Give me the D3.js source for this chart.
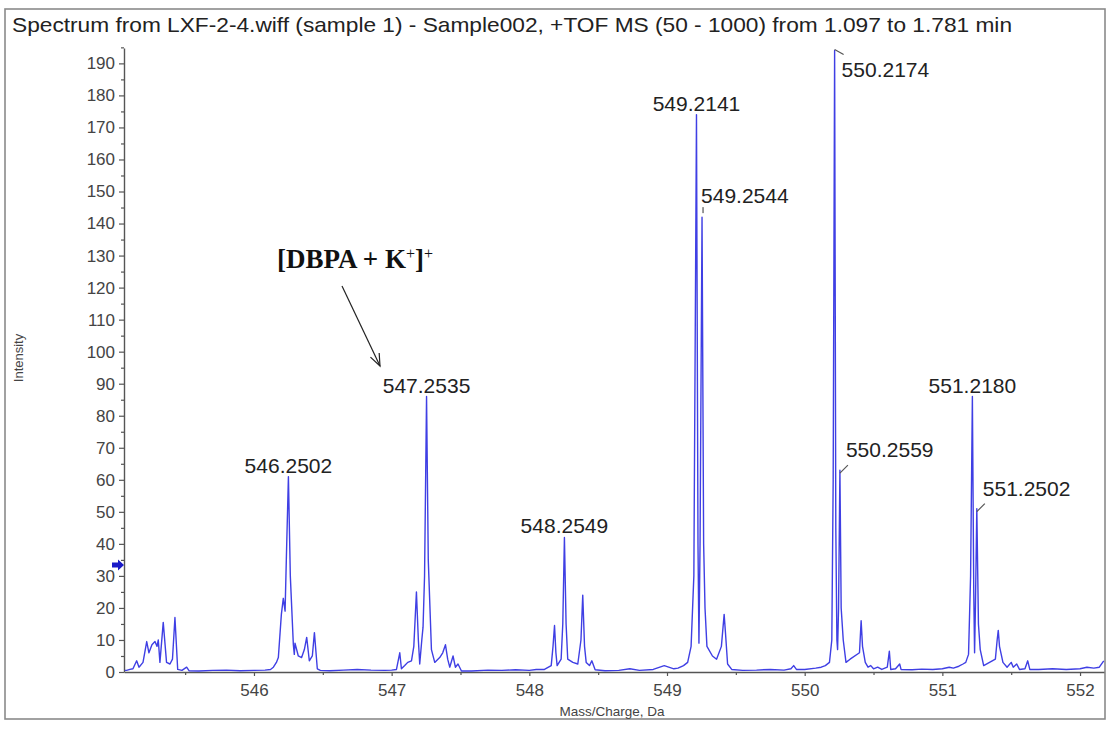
<!DOCTYPE html>
<html>
<head>
<meta charset="utf-8">
<script src="https://cdn.jsdelivr.net/npm/d3@7"></script>
<style>
  body { margin: 0; background: #fff; }
  svg { display: block; font-family: "Liberation Sans", Arial, sans-serif; }
</style>
</head>
<body>
<svg id="chart" width="1108" height="731"></svg>
<script>
// ---- Data ---------------------------------------------------------------
const titleText = "Spectrum from LXF-2-4.wiff (sample 1) - Sample002, +TOF MS (50 - 1000) from 1.097 to 1.781 min";

const mzTicks = [546, 547, 548, 549, 550, 551, 552];
const intensityTicks = [0, 10, 20, 30, 40, 50, 60, 70, 80, 90, 100, 110, 120, 130, 140, 150, 160, 170, 180, 190];

// profile spectrum (m/z, intensity)
const profileMz = [
  545.062, 545.075, 545.099, 545.121, 545.148, 545.165, 545.194, 545.221, 545.237, 545.259,
  545.281, 545.296, 545.305, 545.317, 545.341, 545.365, 545.390, 545.408, 545.426, 545.446,
  545.477, 545.511, 545.528, 545.600, 545.700, 545.800, 545.900, 546.000, 546.080, 546.120,
  546.141, 546.163, 546.177, 546.199, 546.213, 546.226, 546.235, 546.2502, 546.264, 546.286,
  546.293, 546.298, 546.322, 546.346, 546.366, 546.383, 546.402, 546.424, 546.439, 546.460,
  546.482, 546.550, 546.650, 546.750, 546.850, 546.950, 547.000, 547.035, 547.059, 547.071,
  547.095, 547.117, 547.144, 547.161, 547.180, 547.194, 547.204, 547.219, 547.228, 547.239,
  547.2535, 547.266, 547.289, 547.313, 547.349, 547.371, 547.391, 547.407, 547.422, 547.446,
  547.463, 547.482, 547.507, 547.580, 547.700, 547.800, 547.900, 548.000, 548.050, 548.110,
  548.139, 548.159, 548.172, 548.183, 548.193, 548.202, 548.231, 548.243, 548.2549, 548.267,
  548.279, 548.316, 548.352, 548.375, 548.388, 548.401, 548.413, 548.437, 548.454, 548.478,
  548.550, 548.650, 548.730, 548.800, 548.900, 548.980, 549.050, 549.080, 549.120, 549.150,
  549.175, 549.195, 549.2141, 549.225, 549.232, 549.240, 549.2544, 549.266, 549.276, 549.290,
  549.330, 549.360, 549.395, 549.415, 549.425, 549.440, 549.470, 549.550, 549.650, 549.750,
  549.850, 549.900, 549.920, 549.940, 550.000, 550.080, 550.120, 550.150, 550.180, 550.197,
  550.207, 550.2174, 550.226, 550.234, 550.239, 550.246, 550.2559, 550.265, 550.280, 550.300,
  550.330, 550.398, 550.410, 550.420, 550.440, 550.460, 550.480, 550.500, 550.530, 550.560,
  550.600, 550.615, 550.625, 550.660, 550.690, 550.700, 550.780, 550.850, 550.930, 551.000,
  551.050, 551.080, 551.120, 551.150, 551.170, 551.190, 551.205, 551.2180, 551.228, 551.234,
  551.240, 551.2502, 551.262, 551.275, 551.300, 551.385, 551.398, 551.406, 551.415, 551.440,
  551.470, 551.500, 551.515, 551.540, 551.560, 551.600, 551.620, 551.635, 551.700, 551.800,
  551.900, 552.000, 552.050, 552.100, 552.140, 552.172
];
const profileIntensity = [
  0.5, 0.5, 0.8, 1.0, 3.5, 1.5, 3.0, 9.5, 6.0, 8.5,
  9.5, 8.0, 10.0, 3.0, 15.5, 3.0, 2.5, 4.0, 17.0, 0.8,
  0.5, 1.5, 0.4, 0.3, 0.5, 0.6, 0.4, 0.5, 0.6, 0.8,
  1.5, 3.0, 4.5, 18.0, 23.0, 19.0, 35.0, 61.0, 30.0, 8.5,
  5.5, 9.0, 5.0, 4.5, 7.0, 10.8, 3.5, 5.0, 12.3, 1.0,
  0.5, 0.4, 0.6, 0.8, 0.6, 0.5, 0.6, 0.8, 6.0, 1.0,
  2.0, 3.0, 3.5, 8.0, 25.0, 10.0, 2.5, 10.0, 14.0, 30.0,
  86.0, 35.0, 7.0, 3.0, 4.5, 6.0, 8.5, 4.0, 1.5, 5.0,
  1.5, 2.5, 0.3, 0.3, 0.6, 0.5, 0.7, 0.5, 0.8, 0.8,
  1.5, 2.0, 8.0, 14.5, 6.0, 2.0, 4.0, 15.0, 42.0, 15.0,
  4.0, 3.0, 2.5, 10.0, 24.0, 8.0, 3.0, 2.0, 3.5, 0.7,
  0.4, 0.5, 1.0, 0.5, 0.8, 2.0, 1.0, 1.2, 2.0, 3.0,
  8.0, 30.0, 174.0, 40.0, 9.0, 40.0, 142.0, 40.0, 20.0, 8.0,
  5.0, 4.0, 8.0, 18.0, 12.0, 2.5, 0.8, 0.5, 0.6, 0.8,
  0.6, 1.0, 2.0, 0.8, 0.8, 1.2, 1.5, 2.0, 3.0, 10.0,
  60.0, 194.0, 45.0, 10.0, 7.0, 20.0, 63.0, 20.0, 10.0, 3.0,
  4.0, 6.0, 16.0, 8.0, 3.0, 1.5, 2.0, 1.0, 1.5, 0.8,
  1.5, 6.5, 0.8, 1.0, 2.5, 0.8, 0.7, 0.9, 0.8, 1.0,
  1.5, 1.2, 1.8, 2.5, 3.0, 5.5, 30.0, 86.0, 25.0, 6.0,
  20.0, 51.0, 15.0, 7.0, 2.0, 4.0, 10.0, 13.0, 8.0, 3.0,
  1.5, 3.0, 1.5, 2.5, 0.8, 1.0, 3.5, 0.8, 0.8, 1.0,
  0.8, 1.0, 1.5, 1.2, 1.5, 3.5
];

// labelled centroid peaks
const peakMz = [546.2502, 547.2535, 548.2549, 549.2141, 549.2544, 550.2174, 550.2559, 551.2180, 551.2502];
const peakIntensity = [61, 86, 42, 174, 142, 194, 63, 86, 51];

// where each peak label sits relative to its apex
const labelStyle = ["above", "above", "above", "above", "tick", "down", "up", "above", "up"];

// detection threshold marker
const thresholdLevel = 33.4;

// ---- Layout -------------------------------------------------------------
const svg = d3.select("#chart");
const plot = { left: 124, right: 1104, top: 48, bottom: 672 };

const x = d3.scaleLinear().domain([545.056, 552.174]).range([plot.left, plot.right]);
const y = d3.scaleLinear().domain([0, 194.8]).range([plot.bottom, plot.top]);

const axisColor = "#555";
const tickTextColor = "#444";
const traceColor = "#3f3fe4";

// outer frame
svg.append("rect")
  .attr("x", 5).attr("y", 9).attr("width", 1100).attr("height", 710)
  .attr("fill", "none").attr("stroke", "#8a8a8a").attr("stroke-width", 1.6);

// title
svg.append("text")
  .attr("x", 12).attr("y", 32)
  .attr("font-size", 21).attr("fill", "#222")
  .attr("textLength", 1000).attr("lengthAdjust", "spacingAndGlyphs")
  .text(titleText);

// y axis (major + minor ticks)
svg.append("g").attr("transform", `translate(${plot.left},0)`)
  .call(d3.axisLeft(y).tickValues(intensityTicks).tickSize(5).tickSizeOuter(0).tickPadding(4));
svg.append("g").attr("transform", `translate(${plot.left},0)`)
  .call(d3.axisLeft(y).tickValues(intensityTicks.map(v => v + 5)).tickSize(3).tickSizeOuter(0).tickFormat(""))
  .select(".domain").remove();

// x axis (major + minor ticks)
svg.append("g").attr("transform", `translate(0,${plot.bottom})`)
  .call(d3.axisBottom(x).tickValues(mzTicks).tickSize(4).tickSizeOuter(0).tickPadding(8).tickFormat(d3.format("d")));
svg.append("g").attr("transform", `translate(0,${plot.bottom})`)
  .call(d3.axisBottom(x).tickValues(mzTicks.map(v => v - 0.5)).tickSize(3).tickSizeOuter(0).tickFormat(""))
  .select(".domain").remove();

svg.selectAll(".domain").attr("stroke", axisColor).attr("stroke-width", 1.4);
svg.selectAll(".tick line").attr("stroke", axisColor).attr("stroke-width", 1.2);
svg.selectAll(".tick text")
  .attr("font-family", "Liberation Sans, Arial, sans-serif")
  .attr("font-size", 17).attr("fill", tickTextColor);

// axis titles
svg.append("text")
  .attr("transform", `translate(23,${(plot.top + plot.bottom) / 2 - 2}) rotate(-90)`)
  .attr("text-anchor", "middle").attr("font-size", 13).attr("fill", tickTextColor)
  .text("Intensity");
svg.append("text")
  .attr("x", 612).attr("y", 716)
  .attr("text-anchor", "middle").attr("font-size", 13.5).attr("fill", tickTextColor)
  .text("Mass/Charge, Da");

// threshold marker on the intensity axis
const ty = y(thresholdLevel);
svg.append("path")
  .attr("d", `M${plot.left - 12},${ty - 2.5} h6 v-3 l6,5.5 l-6,5.5 v-3 h-6 z`)
  .attr("fill", "#1a1ac8");

// spectrum trace
const profile = profileMz.map((m, i) => [m, profileIntensity[i]]);
svg.append("path")
  .datum(profile)
  .attr("fill", "none")
  .attr("stroke", traceColor)
  .attr("stroke-width", 1.4)
  .attr("stroke-linejoin", "round")
  .attr("d", d3.line().x(d => x(d[0])).y(d => y(d[1])));

// peak labels
const labelFont = 21;
const labels = svg.append("g").attr("font-size", labelFont).attr("fill", "#222");
peakMz.forEach((m, i) => {
  const px = x(m), py = y(peakIntensity[i]);
  const txt = m.toFixed(4);
  const style = labelStyle[i];
  if (style === "above") {
    labels.append("text").attr("x", px).attr("y", py - 4)
      .attr("text-anchor", "middle").text(txt);
  } else if (style === "tick") {
    labels.append("line").attr("x1", px + 1).attr("x2", px + 1).attr("y1", py - 4).attr("y2", py - 10)
      .attr("stroke", "#333").attr("stroke-width", 1);
    labels.append("text").attr("x", px - 1).attr("y", py - 14).text(txt);
  } else if (style === "down") {
    labels.append("path").attr("d", `M${px},${py - 1} L${px + 9},${py + 4}`)
      .attr("stroke", "#555").attr("stroke-width", 1.2).attr("fill", "none");
    labels.append("text").attr("x", px + 7).attr("y", py + 26).text(txt);
  } else {
    labels.append("path").attr("d", `M${px},${py + 3} L${px + 8},${py - 5}`)
      .attr("stroke", "#555").attr("stroke-width", 1.2).attr("fill", "none");
    labels.append("text").attr("x", px + 6).attr("y", py - 13).text(txt);
  }
});

// ion annotation with arrow
const note = svg.append("text")
  .attr("x", 277).attr("y", 268)
  .attr("font-family", "Liberation Serif, 'Times New Roman', serif")
  .attr("font-weight", "bold").attr("font-size", 27).attr("fill", "#111");
note.append("tspan").text("[DBPA + K");
note.append("tspan").attr("font-size", 16).attr("font-weight", "normal").attr("dy", -9).text("+");
note.append("tspan").attr("dy", 9).text("]");
note.append("tspan").attr("font-size", 16).attr("font-weight", "normal").attr("dy", -9).text("+");

svg.append("line")
  .attr("x1", 342).attr("y1", 286).attr("x2", 380).attr("y2", 366)
  .attr("stroke", "#222").attr("stroke-width", 1.2);
{
  const ang = Math.atan2(366 - 286, 380 - 342);
  const len = 13, spread = 0.38;
  const a1 = ang + Math.PI - spread, a2 = ang + Math.PI + spread;
  svg.append("path")
    .attr("d", `M${380 + len * Math.cos(a1)},${366 + len * Math.sin(a1)} L380,366 L${380 + len * Math.cos(a2)},${366 + len * Math.sin(a2)}`)
    .attr("fill", "none").attr("stroke", "#222").attr("stroke-width", 1.2);
}
</script>
</body>
</html>
